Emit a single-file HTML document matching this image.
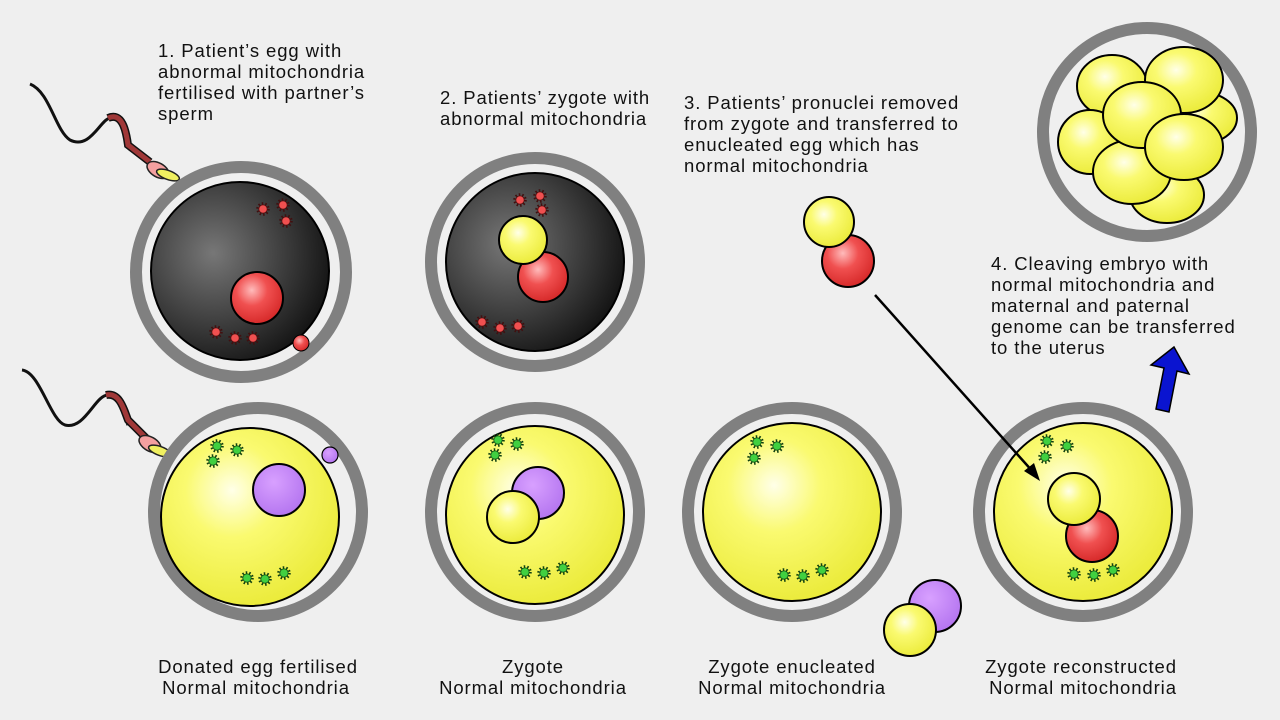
<!DOCTYPE html>
<html><head><meta charset="utf-8"><style>
html,body{margin:0;padding:0;background:#efefef;}
svg{display:block}
text{font-family:"Liberation Sans","DejaVu Sans",sans-serif;font-size:18.5px;letter-spacing:0.9px;fill:#111}
</style></head><body>
<svg width="1280" height="720" viewBox="0 0 1280 720" xmlns="http://www.w3.org/2000/svg">
<defs>
<radialGradient id="dk" cx="0.35" cy="0.4" r="0.7"><stop offset="0" stop-color="#777"/><stop offset="0.6" stop-color="#3a3a3a"/><stop offset="1" stop-color="#111"/></radialGradient>
<radialGradient id="yl" cx="0.4" cy="0.35" r="0.75"><stop offset="0" stop-color="#ffffe8"/><stop offset="0.35" stop-color="#fafa70"/><stop offset="1" stop-color="#e8e830"/></radialGradient>
<radialGradient id="rd" cx="0.4" cy="0.35" r="0.75"><stop offset="0" stop-color="#ffbbbb"/><stop offset="0.4" stop-color="#f05050"/><stop offset="1" stop-color="#d02020"/></radialGradient>
<radialGradient id="pu" cx="0.4" cy="0.35" r="0.75"><stop offset="0" stop-color="#d8a0ff"/><stop offset="1" stop-color="#b070ee"/></radialGradient>
<g id="gm"><circle r="5.5" fill="none" stroke="#104010" stroke-width="2.5" stroke-dasharray="1.5 2"/><circle r="4.2" fill="#40d040" stroke="#105010" stroke-width="0.8"/></g>
<g id="rm"><circle r="5.5" fill="none" stroke="#401010" stroke-width="2.5" stroke-dasharray="1.5 2"/><circle r="4.2" fill="#f05050" stroke="#501010" stroke-width="0.8"/></g>
</defs>
<rect width="1280" height="720" fill="#efefef"/>

<!-- sperm top -->
<path d="M30 84 C50 92,55 130,70 140 C90 150,100 120,110 118 C125 112,125 140,130 150" fill="none" stroke="#111" stroke-width="3"/>
<path d="M108 118 C122 112,126 130,128 145 L150 162" fill="none" stroke="#111" stroke-width="8"/>
<path d="M108 118 C122 112,126 130,128 145 L150 162" fill="none" stroke="#a03838" stroke-width="5"/>
<ellipse cx="158" cy="170" rx="12" ry="7" transform="rotate(30 158 170)" fill="#f4a0a0" stroke="#222" stroke-width="1.5"/>
<ellipse cx="168" cy="175" rx="12" ry="4.5" transform="rotate(20 168 175)" fill="#f0f060" stroke="#222" stroke-width="1.5"/>

<!-- cell 1 top -->
<circle cx="241" cy="272" r="105" fill="none" stroke="#808080" stroke-width="12"/>
<circle cx="240" cy="271" r="89" fill="url(#dk)" stroke="#000" stroke-width="2"/>
<circle cx="257" cy="298" r="26" fill="url(#rd)" stroke="#000" stroke-width="2"/>
<circle cx="301" cy="343" r="8" fill="url(#rd)" stroke="#000" stroke-width="1"/>
<use href="#rm" x="263" y="209"/><use href="#rm" x="283" y="205"/><use href="#rm" x="286" y="221"/>
<use href="#rm" x="216" y="332"/><use href="#rm" x="235" y="338"/><use href="#rm" x="253" y="338"/>

<!-- cell 2 top -->
<circle cx="535" cy="262" r="104" fill="none" stroke="#808080" stroke-width="12"/>
<circle cx="535" cy="262" r="89" fill="url(#dk)" stroke="#000" stroke-width="2"/>
<circle cx="543" cy="277" r="25" fill="url(#rd)" stroke="#000" stroke-width="2"/>
<circle cx="523" cy="240" r="24" fill="url(#yl)" stroke="#000" stroke-width="2"/>
<use href="#rm" x="520" y="200"/><use href="#rm" x="540" y="196"/><use href="#rm" x="542" y="210"/>
<use href="#rm" x="482" y="322"/><use href="#rm" x="500" y="328"/><use href="#rm" x="518" y="326"/>

<!-- free pronuclei -->
<circle cx="848" cy="261" r="26" fill="url(#rd)" stroke="#000" stroke-width="2"/>
<circle cx="829" cy="222" r="25" fill="url(#yl)" stroke="#000" stroke-width="2"/>

<!-- embryo -->
<circle cx="1147" cy="132" r="104" fill="none" stroke="#808080" stroke-width="12"/>
<g fill="url(#yl)" stroke="#000" stroke-width="2">
<ellipse cx="1167" cy="195" rx="37" ry="28"/>
<ellipse cx="1112" cy="86" rx="35" ry="31"/>
<ellipse cx="1200" cy="118" rx="37" ry="26"/>
<ellipse cx="1090" cy="142" rx="32" ry="32"/>
<ellipse cx="1184" cy="80" rx="39" ry="33"/>
<ellipse cx="1132" cy="172" rx="39" ry="32"/>
<ellipse cx="1142" cy="115" rx="39" ry="33"/>
<ellipse cx="1184" cy="147" rx="39" ry="33"/>
</g>

<!-- blue arrow -->
<polygon points="1174,347 1151,365 1164,368 1156,409 1169,412 1177,371 1189,374" fill="#0a14d0" stroke="#000" stroke-width="1.5"/>

<!-- sperm bottom -->
<path d="M22 370 C40 372,50 420,65 425 C85 430,95 395,108 395 C122 395,125 420,128 425" fill="none" stroke="#111" stroke-width="3"/>
<path d="M106 395 C120 392,124 410,128 420 L146 438" fill="none" stroke="#111" stroke-width="8"/>
<path d="M106 395 C120 392,124 410,128 420 L146 438" fill="none" stroke="#a03838" stroke-width="5"/>
<ellipse cx="150" cy="444" rx="12" ry="7" transform="rotate(30 150 444)" fill="#f4a0a0" stroke="#222" stroke-width="1.5"/>
<ellipse cx="160" cy="451" rx="12" ry="4.5" transform="rotate(20 160 451)" fill="#f0f060" stroke="#222" stroke-width="1.5"/>

<!-- bottom cells -->
<g fill="none" stroke="#808080" stroke-width="12">
<circle cx="258" cy="512" r="104"/><circle cx="535" cy="512" r="104"/><circle cx="792" cy="512" r="104"/><circle cx="1083" cy="512" r="104"/>
</g>
<g fill="url(#yl)" stroke="#000" stroke-width="2">
<circle cx="250" cy="517" r="89"/><circle cx="535" cy="515" r="89"/><circle cx="792" cy="512" r="89"/><circle cx="1083" cy="512" r="89"/>
</g>
<circle cx="279" cy="490" r="26" fill="url(#pu)" stroke="#000" stroke-width="2"/>
<circle cx="330" cy="455" r="8" fill="url(#pu)" stroke="#000" stroke-width="1.2"/>
<circle cx="538" cy="493" r="26" fill="url(#pu)" stroke="#000" stroke-width="2"/>
<circle cx="513" cy="517" r="26" fill="url(#yl)" stroke="#000" stroke-width="2"/>
<circle cx="1092" cy="536" r="26" fill="url(#rd)" stroke="#000" stroke-width="2"/>
<circle cx="1074" cy="499" r="26" fill="url(#yl)" stroke="#000" stroke-width="2"/>
<circle cx="935" cy="606" r="26" fill="url(#pu)" stroke="#000" stroke-width="2"/>
<circle cx="910" cy="630" r="26" fill="url(#yl)" stroke="#000" stroke-width="2"/>

<!-- arrow -->
<line x1="875" y1="295" x2="1034" y2="473" stroke="#000" stroke-width="2.5"/>
<polygon points="1040,481 1024,471 1034,463" fill="#000"/>

<use href="#gm" x="217" y="446"/><use href="#gm" x="237" y="450"/><use href="#gm" x="213" y="461"/>
<use href="#gm" x="247" y="578"/><use href="#gm" x="265" y="579"/><use href="#gm" x="284" y="573"/>
<use href="#gm" x="498" y="440"/><use href="#gm" x="517" y="444"/><use href="#gm" x="495" y="455"/>
<use href="#gm" x="525" y="572"/><use href="#gm" x="544" y="573"/><use href="#gm" x="563" y="568"/>
<use href="#gm" x="757" y="442"/><use href="#gm" x="777" y="446"/><use href="#gm" x="754" y="458"/>
<use href="#gm" x="784" y="575"/><use href="#gm" x="803" y="576"/><use href="#gm" x="822" y="570"/>
<use href="#gm" x="1047" y="441"/><use href="#gm" x="1067" y="446"/><use href="#gm" x="1045" y="457"/>
<use href="#gm" x="1074" y="574"/><use href="#gm" x="1094" y="575"/><use href="#gm" x="1113" y="570"/>

<!-- labels -->
<text x="158" y="57">1. Patient’s egg with</text>
<text x="158" y="78">abnormal mitochondria</text>
<text x="158" y="99">fertilised with partner’s</text>
<text x="158" y="120">sperm</text>
<text x="440" y="104">2. Patients’ zygote with</text>
<text x="440" y="125">abnormal mitochondria</text>
<text x="684" y="109">3. Patients’ pronuclei removed</text>
<text x="684" y="130">from zygote and transferred to</text>
<text x="684" y="151">enucleated egg which has</text>
<text x="684" y="172">normal mitochondria</text>
<text x="991" y="270">4. Cleaving embryo with</text>
<text x="991" y="291">normal mitochondria and</text>
<text x="991" y="312">maternal and paternal</text>
<text x="991" y="333">genome can be transferred</text>
<text x="991" y="354">to the uterus</text>
<g text-anchor="middle">
<text x="258" y="673">Donated egg fertilised</text><text x="256" y="694">Normal mitochondria</text>
<text x="533" y="673">Zygote</text><text x="533" y="694">Normal mitochondria</text>
<text x="792" y="673">Zygote enucleated</text><text x="792" y="694">Normal mitochondria</text>
<text x="1081" y="673">Zygote reconstructed</text><text x="1083" y="694">Normal mitochondria</text>
</g>
</svg>
</body></html>
